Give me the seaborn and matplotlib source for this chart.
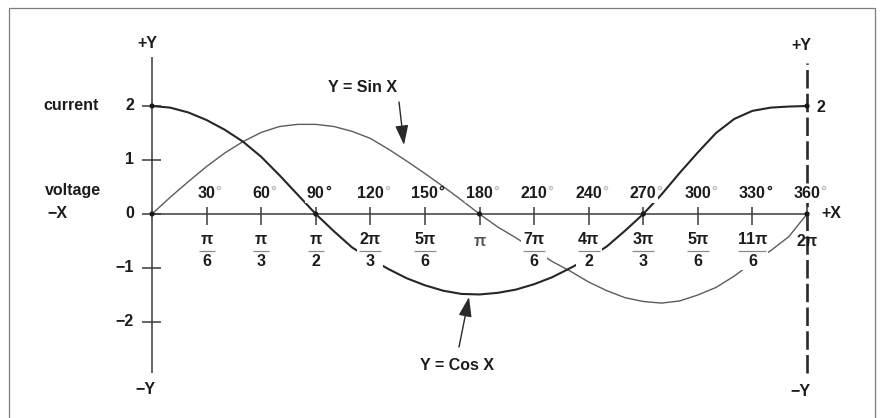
import matplotlib
matplotlib.use("Agg")
import matplotlib.pyplot as plt
import pandas as pd
import seaborn as sns
from matplotlib.patches import Rectangle

# Angle grid in degrees and the two traced waveforms (amplitude units)
degrees = list(range(0, 361, 10))
sin_wave = [0.00, 0.31, 0.60, 0.88, 1.13, 1.34, 1.51, 1.62, 1.66, 1.66,
            1.62, 1.53, 1.40, 1.20, 0.98, 0.75, 0.51, 0.26, 0.00, -0.24,
            -0.44, -0.66, -0.88, -1.06, -1.26, -1.42, -1.55, -1.62, -1.65, -1.61,
            -1.50, -1.36, -1.15, -0.90, -0.68, -0.42, 0.00]
cos_wave = [2.00, 1.97, 1.88, 1.74, 1.56, 1.34, 1.06, 0.72, 0.36, 0.00,
            -0.32, -0.62, -0.83, -1.02, -1.19, -1.32, -1.42, -1.48, -1.49, -1.46,
            -1.40, -1.30, -1.17, -1.00, -0.82, -0.60, -0.31, 0.00, 0.36, 0.76,
            1.14, 1.50, 1.76, 1.91, 1.97, 1.99, 2.00]

# Axis annotations
tick_degrees = [30, 60, 90, 120, 150, 180, 210, 240, 270, 300, 330, 360]
degree_text = ["30", "60", "90", "120", "150", "180", "210", "240", "270", "300", "330", "360"]
degree_sign_dark = [False, False, True, False, True, False, False, False, False, False, True, False]
radian_num = ["π", "π", "π", "2π", "5π", "π", "7π", "4π", "3π", "5π", "11π", "2π"]
radian_den = ["6", "3", "2", "3", "6", "", "6", "2", "3", "6", "6", ""]
y_ticks = [-2, -1, 0, 1, 2]
y_tick_labels = ["−2", "−1", "0", "1", "2"]

sns.set_theme(style="white")
plt.rcParams["font.family"] = ["Liberation Sans", "DejaVu Sans"]

# drawing scale: pixels per degree and per amplitude unit
PX_DEG = 655.0 / 360.0
PX_UNIT = 54.0


def dx(px):
    return px / PX_DEG


def dy(px):
    return px / PX_UNIT


INK = "#1c1c1c"
FS = 11.5
fig = plt.figure(figsize=(8.8, 4.18), dpi=100)
fig.patch.set_facecolor("white")
ax = fig.add_axes([0, 0, 1, 1])
ax.set_xlim(dx(-152), dx(728))
ax.set_ylim(dy(-204), dy(214))
ax.axis("off")

# outer frame (open at the bottom)
fig.patches.append(Rectangle((9 / 880, -0.05), 866 / 880, 1.05 - 8 / 418,
                             transform=fig.transFigure, fill=False,
                             edgecolor="#7c7c7c", lw=0.9))

# main axes
ax.hlines(0, 0, degrees[-1], color="#3a3a3a", lw=1.1, zorder=2)
ax.vlines(0, dy(-159), dy(157), color="#3a3a3a", lw=1.1, zorder=2)
ax.vlines(degrees[-1], dy(-159), dy(151), color="#2a2a2a", lw=1.9,
          linestyles=(0, (7, 2)), zorder=2)

# y ticks and labels
ax.hlines(y_ticks, dx(-10), dx(9), color="#3a3a3a", lw=1.1, zorder=2)
for v, lab in zip(y_ticks, y_tick_labels):
    ax.text(dx(-18), v, lab, ha="right", va="center", fontsize=FS,
            fontweight="bold", color=INK)

# x ticks
ax.vlines(tick_degrees, dy(-11), dy(7), color="#3a3a3a", lw=1.1, zorder=2)

# waveforms
df = pd.DataFrame({"deg": degrees, "sin": sin_wave, "cos": cos_wave})
sns.lineplot(data=df, x="deg", y="sin", color="#5c5c5c", lw=1.0, ax=ax,
             zorder=3, sort=False)
sns.lineplot(data=df, x="deg", y="cos", color="#262626", lw=1.5, ax=ax,
             zorder=3, sort=False)
ax.lines[-1].set_solid_joinstyle("round")
ax.lines[-2].set_solid_joinstyle("round")

# dots where the curves meet the axes
dots = pd.concat([
    df.loc[df["sin"] == 0, ["deg", "sin"]].rename(columns={"sin": "y"}),
    df.loc[(df["cos"] == 0) | (df["cos"] == 2), ["deg", "cos"]].rename(columns={"cos": "y"}),
])
sns.scatterplot(data=dots, x="deg", y="y", s=14, color="#1a1a1a",
                edgecolor="none", ax=ax, zorder=6)

# degree labels above the x axis
for d, lab, dark in zip(tick_degrees, degree_text, degree_sign_dark):
    t = ax.text(d, dy(20), lab, ha="center", va="center", fontsize=FS,
                fontweight="bold", color=INK, zorder=5,
                bbox=dict(boxstyle="square,pad=0.1", fc="white", ec="none"))
    ax.annotate("°", xy=(1, 1), xycoords=t, xytext=(0.2, 1.0),
                textcoords="offset points", ha="left", va="top",
                fontsize=FS - 1, fontweight="bold",
                color=INK if dark else "#bdbdbd", zorder=6)

# radian labels below the x axis
for d, num, den in zip(tick_degrees, radian_num, radian_den):
    w = {1: 16, 2: 22, 3: 28}[len(num)]
    if den:
        ax.add_patch(Rectangle((d - dx(w / 2 + 2), dy(-56)), dx(w + 4), dy(38),
                               fc="white", ec="none", zorder=4))
        ax.hlines(dy(-37), d - dx(w / 2), d + dx(w / 2), color="#8a8a8a",
                  lw=0.9, zorder=5)
        ax.text(d, dy(-48), den, ha="center", va="center", fontsize=FS,
                fontweight="bold", color=INK, zorder=5)
        ax.text(d, dy(-26), num, ha="center", va="center", fontsize=FS,
                fontweight="bold", color=INK, zorder=5)
    else:
        ax.text(d, dy(-27), num, ha="center", va="center", fontsize=FS,
                fontweight="bold", color="#555555" if d == 180 else INK,
                zorder=5)

# axis names
txt = dict(fontsize=FS, fontweight="bold", color=INK)
ax.text(dx(-5), dy(171), "+Y", ha="center", va="center", **txt)
ax.text(dx(-7), dy(-176), "−Y", ha="center", va="center", **txt)
ax.text(degrees[-1] - dx(6), dy(169), "+Y", ha="center", va="center", **txt)
ax.text(degrees[-1] - dx(7), dy(-178), "−Y", ha="center", va="center", **txt)
ax.text(degrees[-1] + dx(24), 0, "+X", ha="center", va="center", **txt)
ax.text(dx(-95), 0, "−X", ha="center", va="center", **txt)
ax.text(degrees[-1] + dx(14), 2 - dy(2), "2", ha="center", va="center", **txt)
ax.text(dx(-81), 2, "current", ha="center", va="center", **txt)
ax.text(dx(-79), dy(23), "voltage", ha="center", va="center", **txt)

# curve captions with arrows
arrow = dict(arrowstyle="-|>,head_length=0.6,head_width=0.2", color="#2a2a2a",
             lw=1.0, shrinkA=0, shrinkB=0, mutation_scale=20)
ax.text(dx(210), dy(126), "Y = Sin X", ha="center", va="center", **txt)
ax.annotate("", xy=(dx(252), dy(69)), xytext=(dx(247), dy(112)),
            arrowprops=arrow, zorder=6)
ax.text(dx(305), dy(-151), "Y = Cos X", ha="center", va="center", **txt)
ax.annotate("", xy=(dx(317), dy(-83)), xytext=(dx(307), dy(-133)),
            arrowprops=arrow, zorder=6)

fig.savefig("out.png", dpi=100, facecolor="white")
